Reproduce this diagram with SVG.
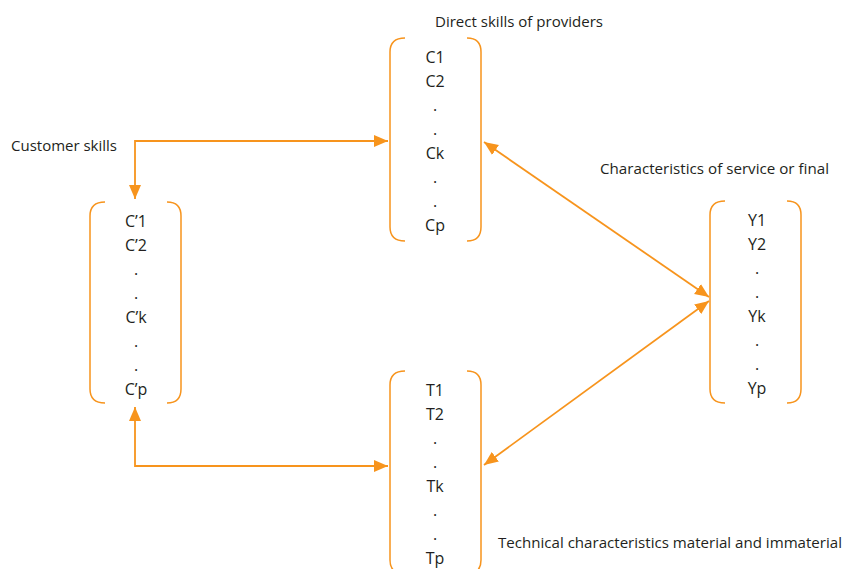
<svg xmlns="http://www.w3.org/2000/svg" width="844" height="569" viewBox="0 0 844 569">
<style>
text{font-family:"Open Sans","Liberation Sans",sans-serif;font-size:15px;fill:#231f20}
.item{text-anchor:middle;font-size:16px}
.br{fill:none;stroke:#f7941d;stroke-width:1.5}
.con{fill:none;stroke:#f7941d;stroke-width:1.8}
</style>
<defs>
<marker id="ah" markerUnits="userSpaceOnUse" markerWidth="16" markerHeight="14" refX="14" refY="6" orient="auto-start-reverse" viewBox="0 0 16 12">
<path d="M0,0 L14,6 L0,12 Z" fill="#f7941d"/>
</marker>
</defs>
<rect width="844" height="569" fill="#ffffff"/>
<g id="connectors">
<path class="con" d="M388,141 H135 V199" marker-start="url(#ah)" marker-end="url(#ah)"/>
<path class="con" d="M135,407 V466 H388" marker-start="url(#ah)" marker-end="url(#ah)"/>
<path class="con" d="M484,142 L709,297" marker-start="url(#ah)" marker-end="url(#ah)"/>
<path class="con" d="M484,465 L709,301" marker-start="url(#ah)" marker-end="url(#ah)"/>
</g>
<g id="providers">
<path class="br" d="M405,38 Q390,38 390,52 V227 Q390,241 405,241"/>
<path class="br" d="M467,38 Q481,38 481,52 V227 Q481,241 467,241"/>
<text x="519" y="27" text-anchor="middle" textLength="168" lengthAdjust="spacingAndGlyphs">Direct skills of providers</text>
<text class="item" x="435" y="63">C1</text>
<text class="item" x="435" y="87">C2</text>
<text class="item" x="435" y="111">.</text>
<text class="item" x="435" y="135">.</text>
<text class="item" x="435" y="159">Ck</text>
<text class="item" x="435" y="183">.</text>
<text class="item" x="435" y="207">.</text>
<text class="item" x="435" y="231">Cp</text>
</g>
<g id="customer">
<path class="br" d="M105,202 Q90,202 90,216 V389 Q90,403 105,403"/>
<path class="br" d="M167,202 Q181,202 181,216 V389 Q181,403 167,403"/>
<text x="11" y="151" textLength="106" lengthAdjust="spacingAndGlyphs">Customer skills</text>
<text class="item" x="136" y="227">C’1</text>
<text class="item" x="136" y="251">C’2</text>
<text class="item" x="136" y="275">.</text>
<text class="item" x="136" y="299">.</text>
<text class="item" x="136" y="323">C’k</text>
<text class="item" x="136" y="347">.</text>
<text class="item" x="136" y="371">.</text>
<text class="item" x="136" y="395">C’p</text>
</g>
<g id="service">
<path class="br" d="M725,201 Q710,201 710,215 V389 Q710,403 725,403"/>
<path class="br" d="M787,201 Q801,201 801,215 V389 Q801,403 787,403"/>
<text x="600" y="174" textLength="229" lengthAdjust="spacingAndGlyphs">Characteristics of service or final</text>
<text class="item" x="757" y="226">Y1</text>
<text class="item" x="757" y="250">Y2</text>
<text class="item" x="757" y="274">.</text>
<text class="item" x="757" y="298">.</text>
<text class="item" x="757" y="322">Yk</text>
<text class="item" x="757" y="346">.</text>
<text class="item" x="757" y="370">.</text>
<text class="item" x="757" y="394">Yp</text>
</g>
<g id="technical">
<path class="br" d="M405,371 Q390,371 390,385 V560 Q390,574 405,574"/>
<path class="br" d="M467,371 Q481,371 481,385 V560 Q481,574 467,574"/>
<text x="498" y="548" textLength="344" lengthAdjust="spacingAndGlyphs">Technical characteristics material and immaterial</text>
<text class="item" x="435" y="396">T1</text>
<text class="item" x="435" y="420">T2</text>
<text class="item" x="435" y="444">.</text>
<text class="item" x="435" y="468">.</text>
<text class="item" x="435" y="492">Tk</text>
<text class="item" x="435" y="516">.</text>
<text class="item" x="435" y="540">.</text>
<text class="item" x="435" y="564">Tp</text>
</g>
</svg>
